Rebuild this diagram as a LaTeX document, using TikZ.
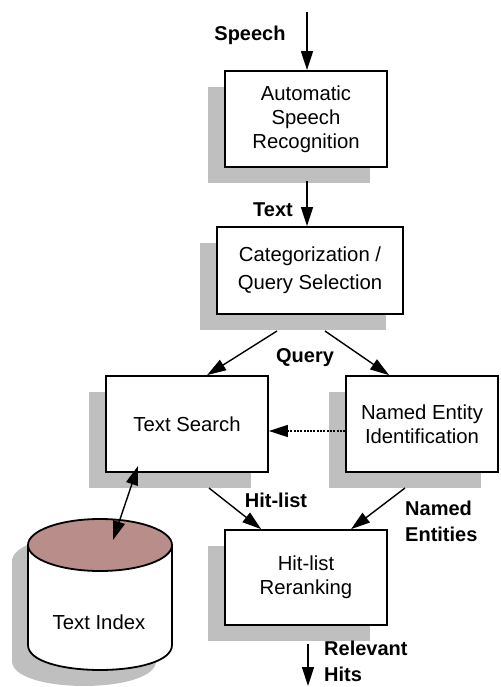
\documentclass[tikz,border=0pt]{standalone}
\usepackage{fontspec}
\setmainfont{Liberation Sans}
\usetikzlibrary{arrows.meta,shadows,calc}
\definecolor{shadowgray}{RGB}{191,191,191}
\definecolor{idxtop}{RGB}{185,141,137}
\tikzset{
  procbox/.style={draw, line width=1.8pt, fill=white, align=center, inner sep=0pt,
    font=\fontsize{20.3}{24}\selectfont,
    drop shadow={shadow xshift=-17pt, shadow yshift=-16pt, fill=shadowgray, opacity=1}},
  tip/.style={-{Triangle[length=19pt,width=12pt]}},
  flow/.style={line width=1.4pt, tip},
  lbl/.style={font=\fontsize{20}{26}\selectfont\bfseries, align=left, inner sep=0pt},
}
\begin{document}
\begin{tikzpicture}[x=1pt,y=-1pt]
\useasboundingbox (0,0) rectangle (500,687);
% boxes
\node[procbox, minimum width=162pt, minimum height=96pt] (asr) at (306,119) {Automatic\\Speech\\Recognition};
\node[procbox, minimum width=186pt, minimum height=87pt, font=\fontsize{20.3}{28}\selectfont] (cat) at (310,270.5) {Categorization /\\Query Selection};
\node[procbox, minimum width=162pt, minimum height=96pt] (ts) at (187,424) {Text Search};
\node[procbox, minimum width=152pt, minimum height=96pt] (nei) at (422,424) {Named Entity\\Identification};
\node[procbox, minimum width=162pt, minimum height=95pt] (hr) at (306,577.5) {Hit-list\\Reranking};
% cylinder (text index)
\fill[shadowgray] (12,561) -- (12,661) .. controls (12,694.3) and (156,694.3) .. (156,661) -- (156,561) -- cycle;
\fill[shadowgray] (84,561) ellipse [x radius=72, y radius=26];
\filldraw[fill=white, line width=1.8pt] (28,545) -- (28,645) .. controls (28,678.3) and (172,678.3) .. (172,645) -- (172,545);
\filldraw[fill=idxtop, line width=1.8pt] (100,545) ellipse [x radius=72, y radius=26];
\node[font=\fontsize{20.3}{24}\selectfont] (idx) at (99,622) {Text Index};
% coordinates
\coordinate (in) at (307,12);
\coordinate (asrout) at (307,181);
\coordinate (q1) at (277,331);
\coordinate (q2) at (325,331);
\coordinate (tsout) at (209,488);
\coordinate (neiout) at (405,488);
\coordinate (hrout) at (308,644);
\coordinate (out) at (308,686);
\coordinate (idxend) at (113,540);
\coordinate (tsend) at (138,466);
% connectors
\draw[flow] (in) -- (asr.north -| in);
\draw[flow] (asrout) -- (cat.north -| asrout);
\draw[flow] (q1) -- ($(ts.north west)+(102,0)$);
\draw[flow] (q2) -- ($(nei.north west)+(44,0)$);
\draw[line width=1.3pt, dash pattern=on 2pt off 1.3pt, tip] ($(nei.west)+(0,7)$) -- ($(ts.east)+(0,7)$);
\draw[flow] (tsout) -- ($(hr.north west)+(37,0)$);
\draw[flow] (neiout) -- ($(hr.north west)+(127,0)$);
\draw[flow] (hrout) -- (out);
\draw[line width=1.4pt, {Triangle[length=19pt,width=12pt]}-{Triangle[length=19pt,width=12pt]}] (idxend) -- (tsend);
% labels
\node[lbl] (lspeech) at (250,35) {Speech};
\node[lbl] (ltext) at (273,210) {Text};
\node[lbl] (lquery) at (305,358) {Query};
\node[lbl] (lhit) at (276,500) {Hit-list};
\node[lbl, anchor=west] (lne) at (405,521) {Named\\Entities};
\node[lbl, anchor=west] (lrel) at (324,661) {Relevant\\Hits};
\end{tikzpicture}
\end{document}
